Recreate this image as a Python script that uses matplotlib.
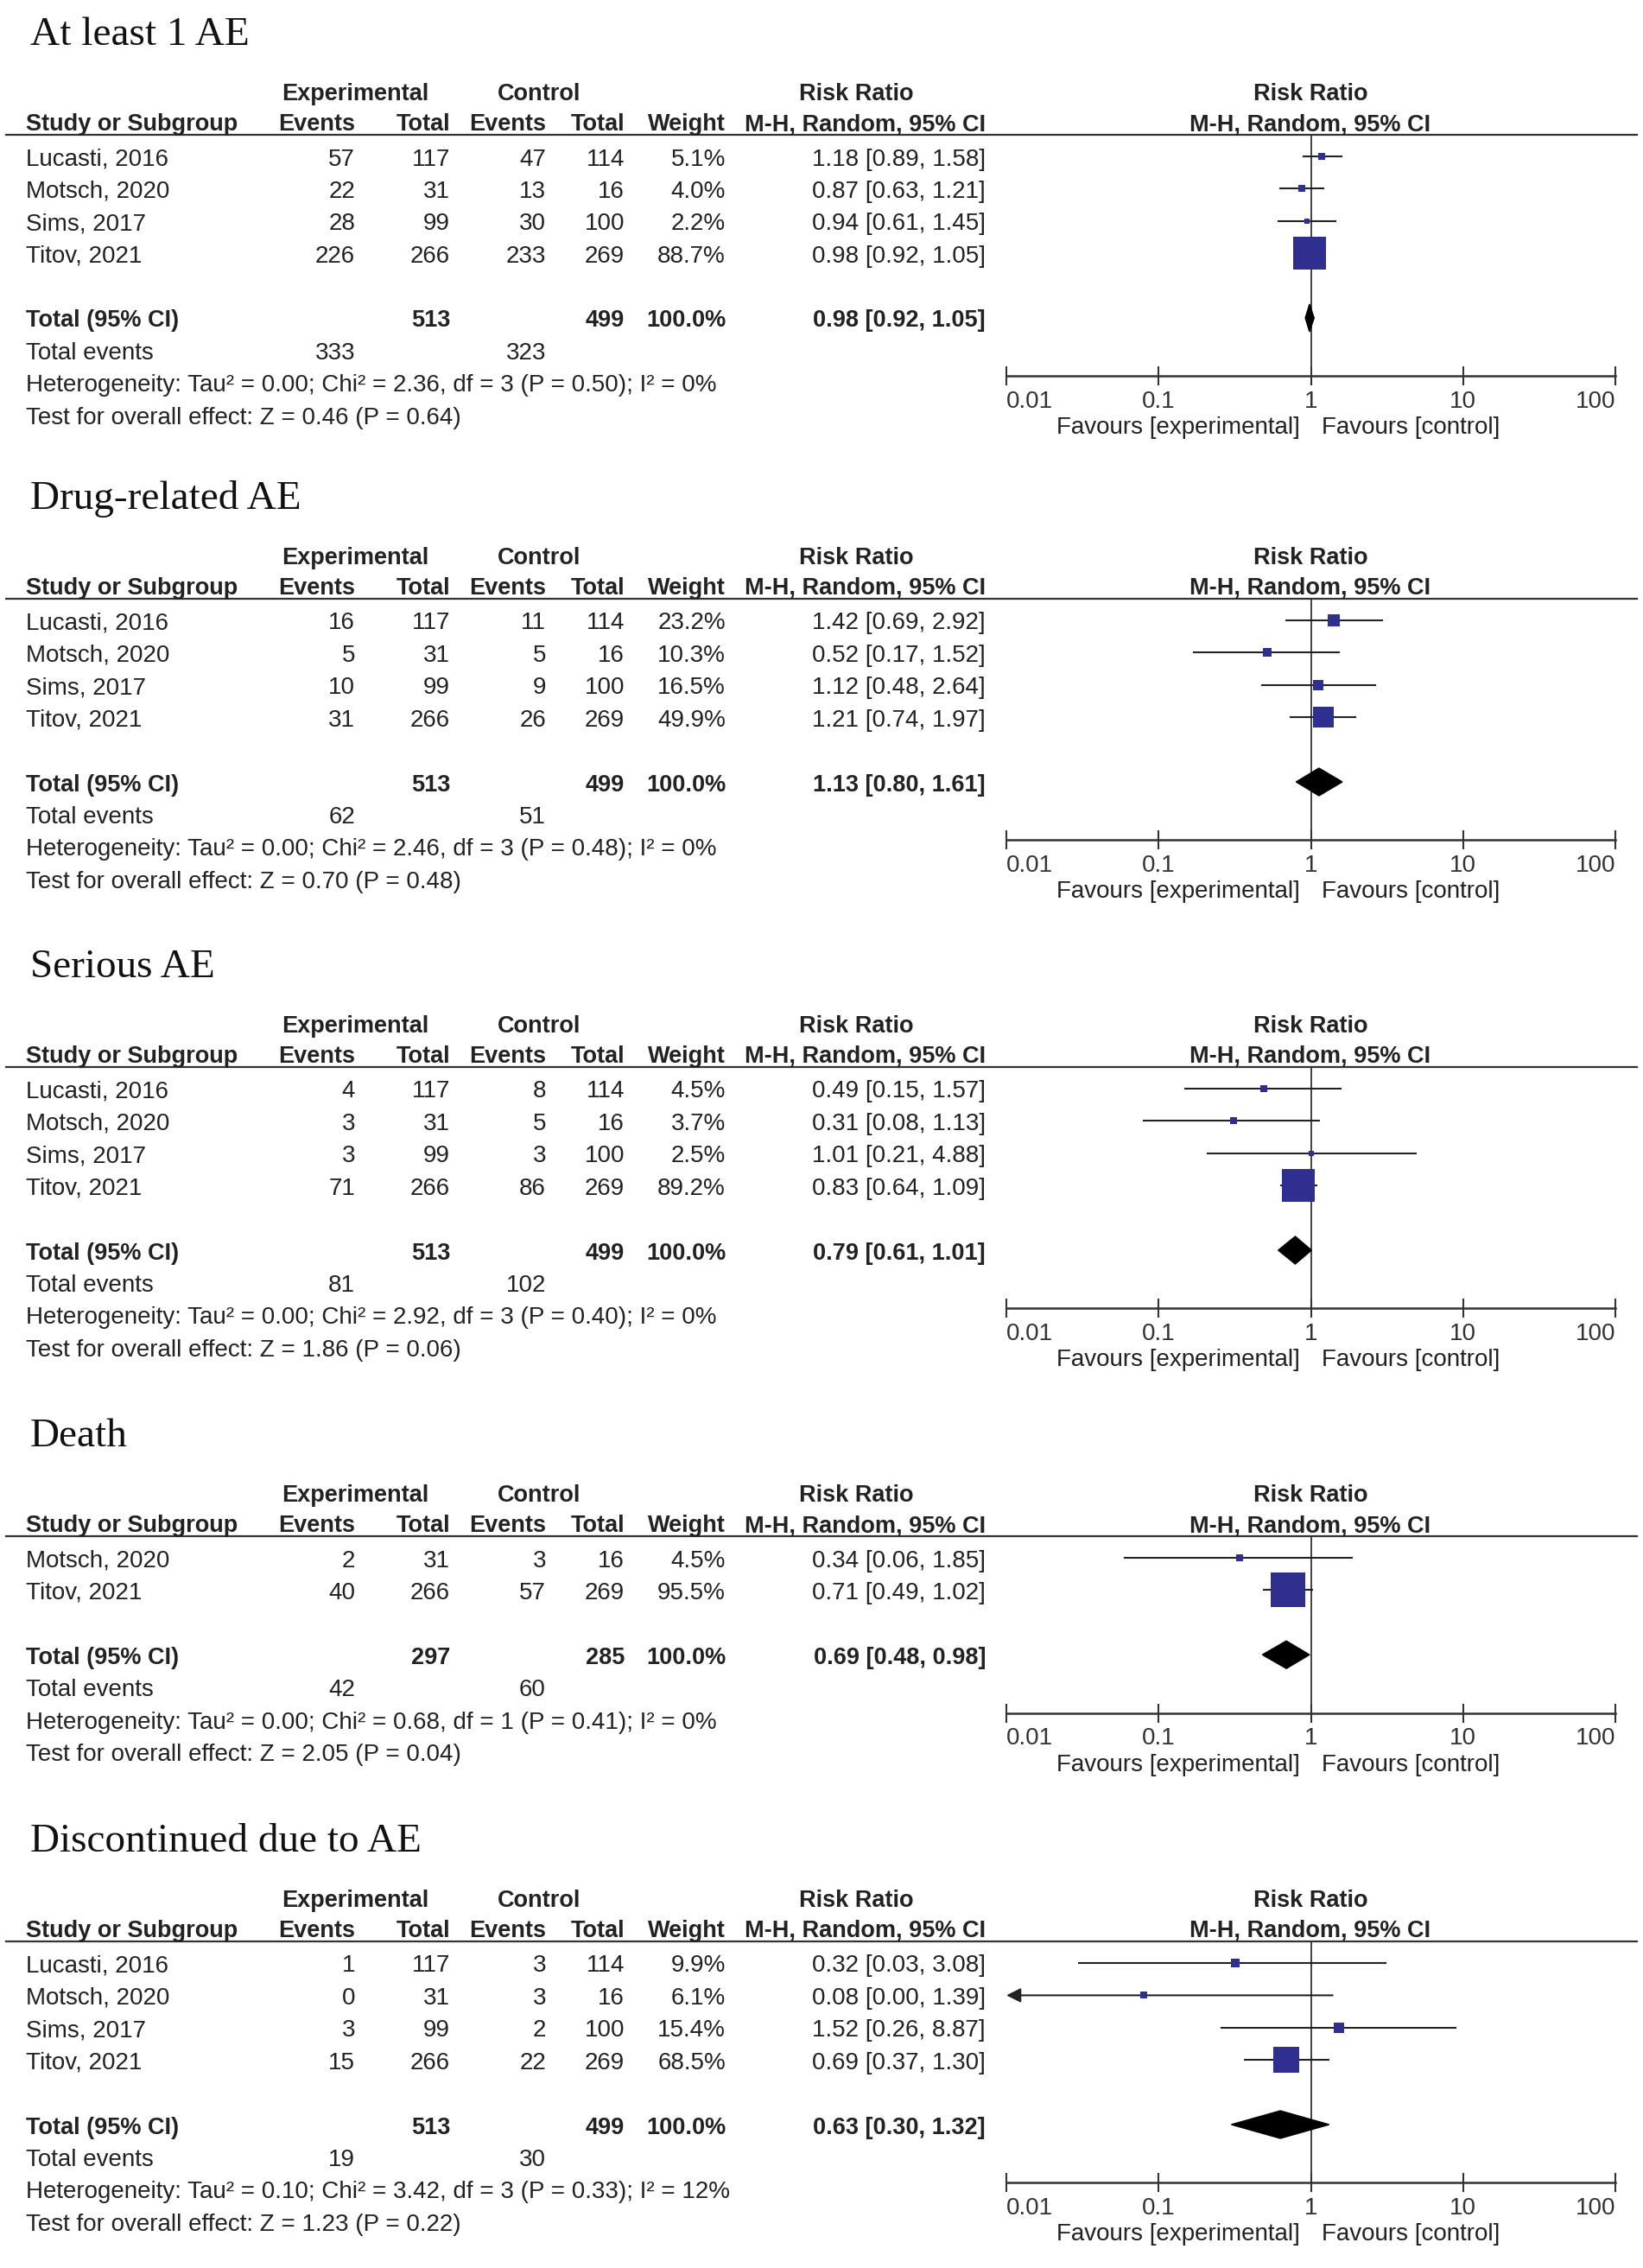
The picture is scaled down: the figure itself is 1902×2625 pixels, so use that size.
import numpy as np
import matplotlib.pyplot as plt
from matplotlib.ticker import NullLocator

# Данные (по панелям)
titles = ["At least 1 AE", "Drug-related AE", "Serious AE", "Death", "Discontinued due to AE"]
four = ["Lucasti, 2016", "Motsch, 2020", "Sims, 2017", "Titov, 2021"]
studies = [four, four, four, ["Motsch, 2020", "Titov, 2021"], four]

exp_events = [[57, 22, 28, 226], [16, 5, 10, 31], [4, 3, 3, 71], [2, 40], [1, 0, 3, 15]]
exp_total = [[117, 31, 99, 266], [117, 31, 99, 266], [117, 31, 99, 266], [31, 266], [117, 31, 99, 266]]
ctrl_events = [[47, 13, 30, 233], [11, 5, 9, 26], [8, 5, 3, 86], [3, 57], [3, 3, 2, 22]]
ctrl_total = [[114, 16, 100, 269], [114, 16, 100, 269], [114, 16, 100, 269], [16, 269], [114, 16, 100, 269]]
weights = [[5.1, 4.0, 2.2, 88.7], [23.2, 10.3, 16.5, 49.9], [4.5, 3.7, 2.5, 89.2], [4.5, 95.5], [9.9, 6.1, 15.4, 68.5]]
rr = [[1.18, 0.87, 0.94, 0.98], [1.42, 0.52, 1.12, 1.21], [0.49, 0.31, 1.01, 0.83], [0.34, 0.71], [0.32, 0.08, 1.52, 0.69]]
rr_lo = [[0.89, 0.63, 0.61, 0.92], [0.69, 0.17, 0.48, 0.74], [0.15, 0.08, 0.21, 0.64], [0.06, 0.49], [0.03, 0.00, 0.26, 0.37]]
rr_hi = [[1.58, 1.21, 1.45, 1.05], [2.92, 1.52, 2.64, 1.97], [1.57, 1.13, 4.88, 1.09], [1.85, 1.02], [3.08, 1.39, 8.87, 1.30]]

pooled = [0.98, 1.13, 0.79, 0.69, 0.63]
pooled_lo = [0.92, 0.80, 0.61, 0.48, 0.30]
pooled_hi = [1.05, 1.61, 1.01, 0.98, 1.32]

tau2 = ["0.00", "0.00", "0.00", "0.00", "0.10"]
chi2 = ["2.36", "2.46", "2.92", "0.68", "3.42"]
dfs = [3, 3, 3, 1, 3]
het_p = ["0.50", "0.48", "0.40", "0.41", "0.33"]
i2 = [0, 0, 0, 0, 12]
z_val = ["0.46", "0.70", "1.86", "2.05", "1.23"]
z_p = ["0.64", "0.48", "0.06", "0.04", "0.22"]

ticks = [0.01, 0.1, 1, 10, 100]
tick_labels = ["0.01", "0.1", "1", "10", "100"]

# Разметка (пиксели)
W, H = 1902, 2625
panel_top = [104, 641, 1183, 1726, 2195]
ROW = 37.4
col_right = [411, 521, 632, 723, 840, 1141]
SANS = ['Liberation Sans', 'DejaVu Sans']
SERIF = ['Liberation Serif', 'DejaVu Serif']
TXT = '#222222'
BLUE = '#2f2f8f'
FS, FSB = 20, 19.5

plt.rcParams['font.family'] = SANS

fig = plt.figure(figsize=(W / 100, H / 100), dpi=100)
base = fig.add_axes([0, 0, 1, 1])
base.set_xlim(0, W)
base.set_ylim(H, 0)
base.axis('off')


def t(x, y, s, ha='left', bold=False):
    base.text(x, y, s, ha=ha, va='baseline', fontsize=FSB if bold else FS,
              fontweight='bold' if bold else 'normal', color=TXT)


for p in range(len(titles)):
    h = panel_top[p]
    n = len(studies[p])
    base.text(35, h - 52, titles[p], family=SERIF, fontsize=34, va='baseline', color='#111111')

    # шапка таблицы
    t(411, h + 12, 'Experimental', 'center', True)
    t(624, h + 12, 'Control', 'center', True)
    t(991, h + 12, 'Risk Ratio', 'center', True)
    t(1517, h + 12, 'Risk Ratio', 'center', True)
    t(30, h + 47, 'Study or Subgroup', bold=True)
    for x, lab in zip(col_right, ['Events', 'Total', 'Events', 'Total', 'Weight', 'M-H, Random, 95% CI']):
        t(x, h + 47, lab, 'right', True)
    t(1517, h + 47, 'M-H, Random, 95% CI', 'center', True)
    base.plot([7, 1895], [h + 52, h + 52], color='#333333', lw=1.6)

    # строки исследований
    for i in range(n):
        yb = h + 77 + ROW * i + 10.5
        vals = [str(exp_events[p][i]), str(exp_total[p][i]), str(ctrl_events[p][i]),
                str(ctrl_total[p][i]), f"{weights[p][i]:.1f}%",
                f"{rr[p][i]:.2f} [{rr_lo[p][i]:.2f}, {rr_hi[p][i]:.2f}]"]
        t(30, yb, studies[p][i])
        for x, v in zip(col_right, vals):
            t(x, yb, v, 'right')

    yb = h + 77 + ROW * (n + 1) + 10.5
    t(30, yb, 'Total (95% CI)', bold=True)
    t(col_right[1], yb, str(sum(exp_total[p])), 'right', True)
    t(col_right[3], yb, str(sum(ctrl_total[p])), 'right', True)
    t(col_right[4], yb, '100.0%', 'right', True)
    t(col_right[5], yb, f"{pooled[p]:.2f} [{pooled_lo[p]:.2f}, {pooled_hi[p]:.2f}]", 'right', True)

    yb += ROW
    t(30, yb, 'Total events')
    t(col_right[0], yb, str(sum(exp_events[p])), 'right')
    t(col_right[2], yb, str(sum(ctrl_events[p])), 'right')
    yb += ROW
    t(30, yb, f"Heterogeneity: Tau² = {tau2[p]}; Chi² = {chi2[p]}, df = {dfs[p]} (P = {het_p[p]}); I² = {i2[p]}%")
    yb += ROW
    t(30, yb, f"Test for overall effect: Z = {z_val[p]} (P = {z_p[p]})")

    # лесной график
    top = h + 52
    axis_y = h + 77 + ROW * (n + 2.8)
    fa = fig.add_axes([1165 / W, 1 - axis_y / H, 705 / W, (axis_y - top) / H])
    fa.set_xscale('log')
    fa.set_xlim(0.01, 100)
    fa.set_ylim(axis_y, top)
    fa.patch.set_alpha(0)
    for s in ['top', 'left', 'right']:
        fa.spines[s].set_visible(False)
    fa.spines['bottom'].set_linewidth(1.8)
    fa.spines['bottom'].set_color('#333333')
    fa.set_yticks([])
    fa.set_xticks(ticks)
    fa.set_xticklabels(tick_labels)
    fa.xaxis.set_minor_locator(NullLocator())
    fa.tick_params(axis='x', direction='inout', length=16, width=1.5, pad=4,
                   labelsize=FS, colors='#333333')
    labs = fa.get_xticklabels()
    labs[0].set_ha('left')
    labs[-1].set_ha('right')
    fa.axvline(1, color='#333333', lw=1.3, zorder=1)

    for i in range(n):
        y = h + 77 + ROW * i
        lo, hi = rr_lo[p][i], rr_hi[p][i]
        if lo < 0.01:
            fa.annotate('', xy=(0.01, y), xytext=(hi, y),
                        arrowprops=dict(arrowstyle='-|>,head_length=0.5,head_width=0.25',
                                        color='#222222', lw=1.5, shrinkA=0, shrinkB=0,
                                        mutation_scale=20))
        else:
            fa.plot([lo, hi], [y, y], color='#222222', lw=1.5, zorder=2, clip_on=False)
        side = 6 + 0.36 * weights[p][i]  # сторона квадрата в пикселях
        fa.plot(rr[p][i], y, marker='s', ms=side * 0.72, color=BLUE, mew=0, zorder=3, clip_on=False)

    y = h + 77 + ROW * (n + 1)
    fa.fill([pooled_lo[p], pooled[p], pooled_hi[p], pooled[p]], [y, y - 16, y, y + 16],
            color='black', zorder=3, clip_on=False)

    ya = axis_y + 67
    t(1505, ya, 'Favours [experimental]', 'right')
    t(1530, ya, 'Favours [control]', 'left')

fig.savefig('out.png', dpi=100, facecolor='white')
